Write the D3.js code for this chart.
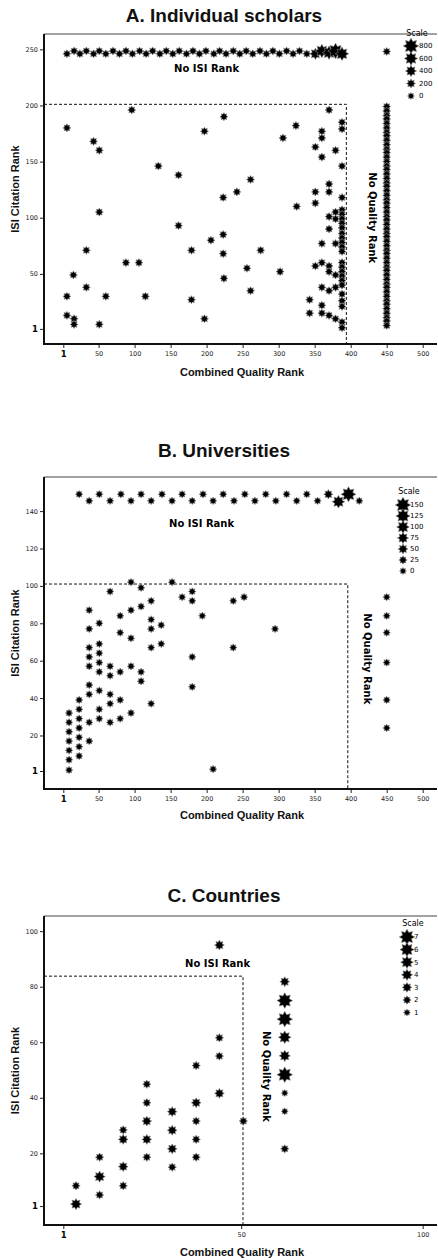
<!DOCTYPE html>
<html>
<head>
<meta charset="utf-8">
<script src="https://cdn.jsdelivr.net/npm/d3@7/dist/d3.min.js"></script>
<style>
  body { margin: 0; background: #fff; }
  .title { font-family: "Liberation Sans", Arial, sans-serif; font-weight: bold; font-size: 19px; text-anchor: middle; fill: #111; }
  .axTitle { font-family: "Liberation Sans", Arial, sans-serif; font-weight: bold; font-size: 11px; text-anchor: middle; fill: #111; }
  .note { font-family: "DejaVu Sans", Verdana, sans-serif; font-weight: bold; font-size: 10px; text-anchor: middle; fill: #000; }
  .axis text { font-family: "DejaVu Sans", Verdana, sans-serif; font-size: 6.5px; fill: #222; }
  .axis line { stroke: #222; }
  .legend text { font-family: "DejaVu Sans", Verdana, sans-serif; font-size: 7px; fill: #000; }
</style>
</head>
<body>
<script>
//wrap everything in a self-executing anonymous function
(function () {

    //A. individual scholars
    var scholarsXTicks = [1, 50, 100, 150, 200, 250, 300, 350, 400, 450, 500];
    var scholarsYTicks = [1, 50, 100, 150, 200, 250];
    var scholarsLegend = [800, 600, 400, 200, 0];
    //row of scholars with no ISI rank
    var scholarsRowX = [6, 16, 24, 33, 43, 51, 60, 70, 79, 88, 97, 107, 116, 125, 135, 144, 153, 162, 172, 181, 190, 199, 210, 218, 227, 237, 246, 255, 264, 274, 283, 292, 301, 311, 320, 329, 339, 351, 360, 370, 379, 388];
    var scholarsRowY = [246, 248.5, 246, 248.5, 246, 248.5, 246, 248.5, 246, 248.5, 246, 248.5, 246, 248.5, 246, 248.5, 246, 248.5, 246, 248.5, 246, 248.5, 246, 248.5, 246, 248.5, 246, 248.5, 246, 248.5, 246, 248.5, 246, 248.5, 246, 248.5, 246, 246, 248.5, 247, 248.5, 246];
    var scholarsRowS = [100, 100, 100, 100, 100, 100, 100, 100, 100, 100, 100, 100, 100, 100, 100, 100, 100, 100, 100, 100, 100, 100, 100, 100, 100, 100, 100, 100, 100, 100, 100, 100, 100, 100, 100, 100, 100, 400, 600, 600, 800, 600];
    //column of scholars with no quality rank (x = 450)
    var scholarsNoQualY = [248, 199, 195, 191, 188, 184, 180, 176, 173, 169, 165, 161, 158, 154, 150, 146, 143, 139, 135, 131, 128, 124, 120, 116, 113, 109, 105, 101, 98, 94, 90, 86, 83, 79, 75, 71, 68, 64, 60, 56, 53, 49, 45, 41, 38, 34, 30, 26, 23, 19, 15, 11, 8, 4];
    //ranked scholars [quality rank, ISI rank]
    var scholarsPts = [[6, 180], [43, 168], [51, 160], [133, 146], [161, 138], [197, 177], [223, 118], [51, 105], [161, 93], [206, 80],
        [223, 85], [33, 71], [179, 71], [223, 68], [88, 60], [106, 60], [15, 49], [224, 46], [33, 38], [6, 30],
        [60, 30], [115, 30], [179, 27], [6, 13], [16, 10], [197, 10], [16, 5], [51, 5], [96, 196], [224, 190],
        [324, 182], [306, 171], [370, 196], [360, 177], [360, 171], [388, 185], [388, 179], [351, 163], [379, 160], [360, 154],
        [388, 146], [261, 134], [242, 123], [370, 130], [370, 123], [351, 123], [351, 113], [325, 110], [379, 105], [370, 101],
        [379, 99], [370, 90], [379, 77], [360, 77], [275, 71], [256, 55], [302, 52], [261, 35], [351, 57], [360, 60],
        [370, 57], [370, 52], [379, 49], [360, 38], [370, 35], [379, 38], [343, 27], [343, 15], [360, 22], [360, 15],
        [370, 13], [379, 10], [388, 118], [388, 107], [388, 103], [388, 99], [388, 95], [388, 91], [388, 86], [388, 82],
        [388, 78], [388, 74], [388, 70], [388, 60], [388, 56], [388, 52], [388, 48], [388, 44], [388, 40], [388, 32],
        [388, 26], [388, 21], [388, 7], [388, 2]];

    //B. universities
    var uniXTicks = [1, 50, 100, 150, 200, 250, 300, 350, 400, 450, 500];
    var uniYTicks = [1, 20, 40, 60, 80, 100, 120, 140];
    var uniLegend = [150, 125, 100, 75, 50, 25, 0];
    var uniRowX = [23, 37, 51, 66, 81, 95, 109, 123, 138, 152, 166, 180, 195, 209, 223, 238, 253, 267, 282, 296, 311, 325, 339, 354, 369, 383, 397, 412];
    var uniRowY = [149, 145.5, 149, 145.5, 149, 145.5, 149, 145.5, 149, 145.5, 149, 145.5, 149, 145.5, 149, 145.5, 149, 145.5, 149, 145.5, 149, 145.5, 149, 145.5, 149, 145, 149, 145.5];
    var uniRowS = [10, 10, 10, 10, 10, 10, 10, 10, 10, 10, 10, 10, 10, 10, 10, 10, 10, 10, 10, 10, 10, 10, 10, 10, 40, 100, 140, 10];
    var uniNoQualY = [94, 84, 75, 59, 39, 24];
    var uniPts = [[9, 32], [9, 27], [9, 22], [9, 17], [9, 12], [9, 7], [9, 1.5],
        [23, 39], [23, 34], [23, 29], [23, 24], [23, 19], [23, 14], [23, 9],
        [37, 87], [37, 77], [37, 67], [37, 62], [37, 57], [37, 47], [37, 42], [37, 27], [37, 17],
        [51, 80], [51, 69], [51, 64], [51, 59], [51, 54], [51, 44], [51, 34], [51, 29],
        [66, 97], [66, 57], [66, 52], [66, 42], [66, 37], [66, 27],
        [80, 84], [80, 75], [80, 54], [80, 39], [80, 29],
        [95, 102], [95, 87], [95, 72], [95, 57], [95, 32],
        [109, 99], [109, 89], [109, 54], [109, 49],
        [123, 92], [123, 82], [123, 77], [123, 67], [123, 37],
        [137, 79], [137, 69], [152, 102], [166, 94], [180, 97], [180, 92], [180, 62], [180, 46],
        [194, 84], [209, 2], [237, 92], [252, 94], [295, 77], [237, 67]];

    //C. countries [quality rank, ISI rank, count]
    var countryXTicks = [1, 50, 100];
    var countryYTicks = [1, 20, 40, 60, 80, 100];
    var countryLegend = [7, 6, 5, 4, 3, 2, 1];
    var countryPts = [[4.5, 8.3, 2], [4.5, 1.7, 4], [11, 18.6, 2], [11, 11.6, 4], [11, 5, 2],
        [17.5, 28.4, 2], [17.5, 25, 3], [17.5, 15.2, 3], [17.5, 8.3, 2],
        [24, 44.9, 2], [24, 38.2, 2], [24, 31.6, 3], [24, 25, 3], [24, 18.6, 2],
        [31, 35, 3], [31, 28.3, 3], [31, 21.6, 3], [31, 15, 2],
        [37.6, 51.6, 2], [37.6, 38.2, 3], [37.6, 31.6, 2], [37.6, 25, 2], [37.6, 18.6, 2],
        [44, 61.6, 2], [44, 55, 2], [44, 41.6, 3], [50.6, 31.6, 2], [44, 95, 3],
        [62, 81.8, 3], [62, 75, 7], [62, 68.3, 7], [62, 61.8, 5], [62, 55.1, 4], [62, 48.3, 7],
        [62, 41.7, 1], [62, 35.1, 1], [62, 21.6, 2]];

    //8 pointed star marker
    var starType = {
        draw: function (context, size) {
            var r = Math.sqrt(size), ri = r * 0.62;
            for (var i = 0; i < 16; i++) {
                var a = i * Math.PI / 8 - Math.PI / 2, rr = i % 2 ? ri : r;
                if (i === 0) context.moveTo(rr * Math.cos(a), rr * Math.sin(a));
                else context.lineTo(rr * Math.cos(a), rr * Math.sin(a));
            }
            context.closePath();
        }
    };

    var svg = d3.select("body")
        .append("svg")
        .attr("width", 438)
        .attr("height", 1260);

    //build point lists for each panel
    var ptsA = scholarsPts.map(function (d) { return { x: d[0], y: d[1], s: 100 }; })
        .concat(scholarsRowX.map(function (d, i) { return { x: d, y: scholarsRowY[i], s: scholarsRowS[i] }; }))
        .concat(scholarsNoQualY.map(function (d) { return { x: 450, y: d, s: 100 }; }));
    var ptsB = uniPts.map(function (d) { return { x: d[0], y: d[1], s: 10 }; })
        .concat(uniRowX.map(function (d, i) { return { x: d, y: uniRowY[i], s: uniRowS[i] }; }))
        .concat(uniNoQualY.map(function (d) { return { x: 450, y: d, s: 10 }; }));
    var ptsC = countryPts.map(function (d) { return { x: d[0], y: d[1], s: d[2] }; });

    drawPanel({
        title: "A. Individual scholars", titleY: 22,
        top: 34, bottom: 344, left: 44, right: 437,
        xDomain: [1, 500], xRange: [63.3, 422.7],
        yDomain: [1, 250], yRange: [328.9, 49.3],
        xTicks: scholarsXTicks, yTicks: scholarsYTicks,
        dash: [394, 201], noIsi: [200, 233], noQual: [430, 100],
        sizeDomain: [0, 800], legendValues: scholarsLegend,
        legend: { starX: 411, labelX: 419, scaleY: 36, y0: 46, step: 12.5 },
        xTitleY: 376, pts: ptsA
    });

    drawPanel({
        title: "B. Universities", titleY: 457,
        top: 477, bottom: 789, left: 44, right: 437,
        xDomain: [1, 500], xRange: [63.3, 422.7],
        yDomain: [1, 140], yRange: [771, 511.1],
        xTicks: uniXTicks, yTicks: uniYTicks,
        dash: [396, 101], noIsi: [193, 133.6], noQual: [423, 61],
        sizeDomain: [0, 150], legendValues: uniLegend,
        legend: { starX: 403, labelX: 410, scaleY: 494, y0: 505, step: 11 },
        xTitleY: 819, pts: ptsB
    });

    drawPanel({
        title: "C. Countries", titleY: 902,
        top: 916, bottom: 1225, left: 44, right: 437,
        xDomain: [1, 100], xRange: [63.3, 422.7],
        yDomain: [20, 80], yRange: [1153.3, 986.7],
        xTicks: countryXTicks, yTicks: countryYTicks,
        dash: [50.5, 83.8], noIsi: [43.5, 88.4], noQual: [57, 47.7],
        sizeDomain: [1, 7], legendValues: countryLegend,
        legend: { starX: 407, labelX: 414, scaleY: 926, y0: 937, step: 12.6 },
        xTitleY: 1256, pts: ptsC
    });

    function drawPanel(p) {
        var x = d3.scaleLinear().domain(p.xDomain).range(p.xRange);
        var y = d3.scaleLinear().domain(p.yDomain).range(p.yRange);
        var r = d3.scaleLinear().domain(p.sizeDomain).range([3.5, 7.8]);
        var star = d3.symbol().type(starType);

        var g = svg.append("g");

        g.append("text").attr("class", "title")
            .attr("x", 224).attr("y", p.titleY).text(p.title);

        //frame top line
        g.append("line")
            .attr("x1", p.left).attr("x2", p.right)
            .attr("y1", p.top).attr("y2", p.top)
            .attr("stroke", "#444").attr("stroke-width", 1);

        //axes
        g.append("g").attr("class", "axis")
            .attr("transform", "translate(" + p.left + ",0)")
            .call(d3.axisLeft(y).tickValues(p.yTicks).tickSize(4).tickPadding(2).tickFormat(d3.format("d")));
        g.append("g").attr("class", "axis")
            .attr("transform", "translate(0," + p.bottom + ")")
            .call(d3.axisBottom(x).tickValues(p.xTicks).tickSize(4).tickPadding(3).tickFormat(d3.format("d")));
        g.selectAll(".axis .domain").remove();
        g.selectAll(".axis .tick text")
            .filter(function (d) { return d === 1; })
            .style("font-weight", "bold").style("font-size", "8.5px").style("fill", "#000");

        g.append("line")
            .attr("x1", p.left).attr("x2", p.left)
            .attr("y1", p.top).attr("y2", p.bottom + 1)
            .attr("stroke", "#111").attr("stroke-width", 2);
        g.append("line")
            .attr("x1", p.left).attr("x2", p.right)
            .attr("y1", p.bottom).attr("y2", p.bottom)
            .attr("stroke", "#111").attr("stroke-width", 2);

        //dashed box of ranked items
        g.append("path")
            .attr("d", "M" + p.left + "," + y(p.dash[1]) + "H" + x(p.dash[0]) + "V" + p.bottom)
            .attr("fill", "none").attr("stroke", "#111").attr("stroke-width", 1)
            .attr("stroke-dasharray", "3,2");

        //axis titles
        g.append("text").attr("class", "axTitle")
            .attr("transform", "translate(19," + ((p.top + p.bottom) / 2) + ") rotate(-90)")
            .text("ISI Citation Rank");
        g.append("text").attr("class", "axTitle")
            .attr("x", 242).attr("y", p.xTitleY)
            .text("Combined Quality Rank");

        //annotations
        g.append("text").attr("class", "note")
            .attr("x", x(p.noIsi[0])).attr("y", y(p.noIsi[1]))
            .attr("dy", "0.35em")
            .text("No ISI Rank");
        g.append("text").attr("class", "note")
            .attr("transform", "translate(" + x(p.noQual[0]) + "," + y(p.noQual[1]) + ") rotate(90)")
            .attr("dy", "0.35em")
            .text("No Quality Rank");

        //points
        g.selectAll(".pt")
            .data(p.pts)
            .enter()
            .append("path")
            .attr("class", "pt")
            .attr("transform", function (d) { return "translate(" + x(d.x) + "," + y(d.y) + ")"; })
            .attr("d", function (d) { var rr = r(d.s); return star.size(rr * rr)(); })
            .attr("fill", "#000")
            .attr("stroke", "#888")
            .attr("stroke-width", 0.6);

        //size legend
        var lg = g.append("g").attr("class", "legend");
        lg.append("text")
            .attr("x", p.legend.starX + 6).attr("y", p.legend.scaleY)
            .attr("text-anchor", "middle")
            .style("font-size", "8px")
            .text("Scale");
        var item = lg.selectAll(".item")
            .data(p.legendValues)
            .enter()
            .append("g")
            .attr("transform", function (d, i) { return "translate(0," + (p.legend.y0 + i * p.legend.step) + ")"; });
        item.append("path")
            .attr("transform", "translate(" + p.legend.starX + ",0)")
            .attr("d", function (d) { var rr = r(d); return star.size(rr * rr)(); })
            .attr("fill", "#000").attr("stroke", "#888").attr("stroke-width", 0.6);
        item.append("text")
            .attr("x", p.legend.labelX).attr("dy", "0.35em")
            .text(function (d) { return d; });
    }

})();
</script>
</body>
</html>
